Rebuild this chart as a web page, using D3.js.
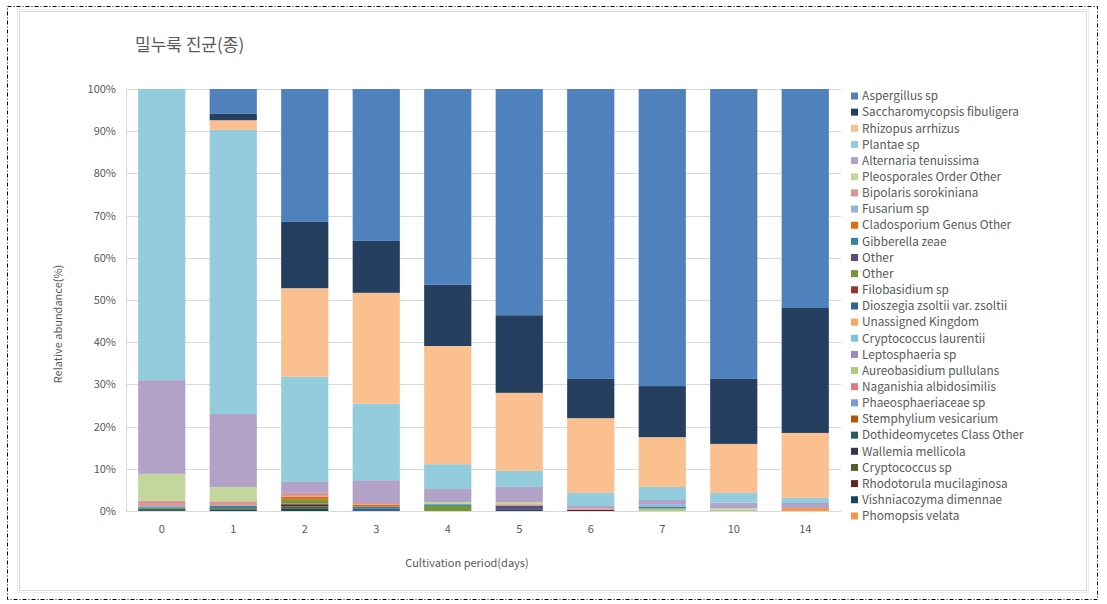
<!DOCTYPE html>
<html><head><meta charset="utf-8">
<script src="https://cdn.jsdelivr.net/npm/d3@7"></script>
<style>
html,body{margin:0;padding:0;background:#fff;}
svg{display:block;font-family:"Noto Sans CJK KR","Noto Sans",sans-serif;}
</style></head>
<body>
<svg id="chart" width="1107" height="604"></svg>
<script>
// ---- data ----
const days = ["0","1","2","3","4","5","6","7","10","14"];
const seriesNames = [
  "Aspergillus sp","Saccharomycopsis fibuligera","Rhizopus arrhizus","Plantae sp",
  "Alternaria tenuissima","Pleosporales Order Other","Bipolaris sorokiniana","Fusarium sp",
  "Cladosporium Genus Other","Gibberella zeae","Other","Other","Filobasidium sp",
  "Dioszegia zsoltii var. zsoltii","Unassigned Kingdom","Cryptococcus laurentii","Leptosphaeria sp",
  "Aureobasidium pullulans","Naganishia albidosimilis","Phaeosphaeriaceae sp","Stemphylium vesicarium",
  "Dothideomycetes Class Other","Wallemia mellicola","Cryptococcus sp","Rhodotorula mucilaginosa",
  "Vishniacozyma dimennae","Phomopsis velata"
];
const aspergillus      = [0, 5.9, 31.5, 36.0, 46.4, 53.6, 68.7, 70.4, 68.7, 51.9];
const saccharomycopsis = [0, 1.5, 15.7, 12.3, 14.5, 18.4, 9.3, 12.1, 15.4, 29.6];
const rhizopus         = [0, 2.3, 21.0, 26.3, 28.0, 18.5, 17.7, 11.8, 11.6, 15.4];
const plantae          = [69.0, 67.3, 24.9, 18.1, 5.9, 3.8, 3.1, 3.1, 2.3, 1.2];
const alternaria       = [22.2, 17.3, 2.6, 5.4, 3.1, 3.6, 0.6, 1.0, 1.4, 1.2];
const pleosporales     = [6.4, 3.4, 0, 0, 0.5, 0.5, 0, 0, 0.3, 0];
const bipolaris        = [1.2, 1.0, 0.9, 0.4, 0, 0.3, 0.3, 0, 0, 0];
const fusarium         = [0.3, 0, 0, 0, 0, 0, 0, 0.6, 0, 0];
const cladosporium     = [0, 0, 0.6, 0.5, 0, 0, 0, 0, 0, 0];
const gibberella       = [0.3, 0.4, 0, 0.5, 0.4, 0, 0, 0.4, 0, 0];
const otherPurple      = [0, 0, 0, 0, 0, 0.9, 0, 0, 0, 0];
const otherGreen       = [0, 0, 1.0, 0, 1.2, 0, 0, 0, 0, 0];
const filobasidium     = [0, 0, 0, 0, 0, 0, 0, 0, 0, 0];
const dioszegia        = [0, 0, 0, 0.5, 0, 0, 0, 0, 0, 0];
const unassigned       = [0, 0, 0, 0, 0, 0, 0, 0, 0, 0];
const cryptoLaurentii  = [0, 0, 0, 0, 0, 0, 0, 0, 0, 0];
const leptosphaeria    = [0, 0, 0, 0, 0, 0, 0, 0, 0, 0];
const aureobasidium    = [0, 0, 0, 0, 0, 0, 0, 0.6, 0.3, 0];
const naganishia       = [0, 0, 0, 0, 0, 0, 0, 0, 0, 0];
const phaeosphaeriaceae= [0, 0, 0, 0, 0, 0, 0, 0, 0, 0];
const stemphylium      = [0, 0, 0.2, 0, 0, 0, 0, 0, 0, 0];
const dothideomycetes  = [0, 0.3, 0, 0, 0, 0, 0, 0, 0, 0];
const wallemia         = [0, 0, 0.5, 0, 0, 0, 0, 0, 0, 0];
const cryptococcusSp   = [0.4, 0.3, 0.6, 0, 0, 0, 0, 0, 0, 0];
const rhodotorula      = [0, 0, 0, 0, 0, 0, 0.3, 0, 0, 0];
const vishniacozyma    = [0.2, 0.3, 0.5, 0, 0, 0.4, 0, 0, 0, 0];
const phomopsis        = [0, 0, 0, 0, 0, 0, 0, 0, 0, 0.7];
const yTicks = [0,10,20,30,40,50,60,70,80,90,100];

const seriesValues = [aspergillus, saccharomycopsis, rhizopus, plantae, alternaria, pleosporales,
  bipolaris, fusarium, cladosporium, gibberella, otherPurple, otherGreen, filobasidium, dioszegia,
  unassigned, cryptoLaurentii, leptosphaeria, aureobasidium, naganishia, phaeosphaeriaceae,
  stemphylium, dothideomycetes, wallemia, cryptococcusSp, rhodotorula, vishniacozyma, phomopsis];

const colors = ["#4F81BD","#243F60","#FAC090","#93CDDD","#B3A2C7","#C3D69B","#D99694","#95B3D7",
  "#E46C0A","#31859C","#604A7B","#77933C","#953735","#376092","#F9A65A","#7FC6DA","#9C88BC",
  "#AFCB7A","#E07A80","#7C9BD2","#B65708","#215968","#3F3151","#4F6228","#632523","#17455E","#F79646"];

// ---- build table ----
const keys = seriesNames.map((n,i)=>"s"+i);
const table = days.map((d,j)=>{
  const row = {day:d};
  keys.forEach((k,i)=>row[k]=seriesValues[i][j]);
  return row;
});
// stack bottom = last series in legend
const stack = d3.stack().keys(keys.slice().reverse())(table);

const svg = d3.select("#chart");
// outer dash-dot border
svg.append("rect").attr("x",7.5).attr("y",6.5).attr("width",1090).attr("height",593)
  .attr("fill","none").attr("stroke","#000").attr("stroke-width",1).attr("stroke-dasharray","4,2,1,2");
// chart frame
svg.append("rect").attr("x",19.5).attr("y",11.5).attr("width",1067).attr("height",579)
  .attr("fill","#fff").attr("stroke","#d9d9d9").attr("stroke-width",1);
svg.append("rect").attr("x",17.5).attr("y",9.5).attr("width",1071).attr("height",583)
  .attr("fill","none").attr("stroke","#ececec").attr("stroke-width",1);

const x = d3.scaleBand().domain(days).range([126, 841]).paddingInner(0.34).paddingOuter(0.17);
const y = d3.scaleLinear().domain([0,100]).range([511, 89]);

// gridlines
svg.append("g").selectAll("line").data(yTicks).join("line")
  .attr("x1",126).attr("x2",841)
  .attr("y1",d=>Math.round(y(d))+0.5).attr("y2",d=>Math.round(y(d))+0.5)
  .attr("stroke","#d9d9d9").attr("stroke-width",1);

// y axis
const yAxis = d3.axisLeft(y).tickValues(yTicks).tickFormat(d=>d+"%").tickSize(0).tickPadding(10);
const yg = svg.append("g").attr("transform","translate(126,0)").call(yAxis);
yg.select(".domain").attr("stroke","#d9d9d9");
yg.selectAll("text").attr("fill","#595959").attr("font-size","11px")
  .attr("font-family","'Noto Sans CJK KR','Noto Sans',sans-serif");

// bars
svg.append("g").selectAll("g").data(stack).join("g")
  .attr("fill",d=>colors[keys.indexOf(d.key)])
  .selectAll("rect").data(d=>d).join("rect")
  .attr("x",d=>x(d.data.day))
  .attr("width",x.bandwidth())
  .attr("y",d=>y(d[1]))
  .attr("height",d=>Math.max(0,y(d[0])-y(d[1])));

// x axis
const xAxis = d3.axisBottom(x).tickSize(0).tickPadding(14);
const xg = svg.append("g").attr("transform","translate(0,511)").call(xAxis);
xg.select(".domain").attr("stroke","#d9d9d9");
xg.selectAll("text").attr("fill","#595959").attr("font-size","11px")
  .attr("font-family","'Noto Sans CJK KR','Noto Sans',sans-serif");

// titles
svg.append("text").attr("x",135).attr("y",51).text("밀누룩 진균(종)")
  .attr("fill","#595959").attr("font-size","17px");
svg.append("text").attr("x",467).attr("y",567).attr("text-anchor","middle")
  .text("Cultivation period(days)").attr("fill","#595959").attr("font-size","11px");
svg.append("text").attr("transform","translate(62,324) rotate(-90)").attr("text-anchor","middle")
  .text("Relative abundance(%)").attr("fill","#595959").attr("font-size","11px");

// legend
const lg = svg.append("g").attr("transform","translate(851,96)");
const items = lg.selectAll("g").data(seriesNames).join("g")
  .attr("transform",(d,i)=>`translate(0,${i*16.15})`);
items.append("rect").attr("x",0).attr("y",-3.5).attr("width",7).attr("height",7)
  .attr("fill",(d,i)=>colors[i]);
items.append("text").attr("x",11).attr("y",0).attr("dy","0.36em").text(d=>d)
  .attr("fill","#595959").attr("font-size","11.8px");
</script>
</body></html>
